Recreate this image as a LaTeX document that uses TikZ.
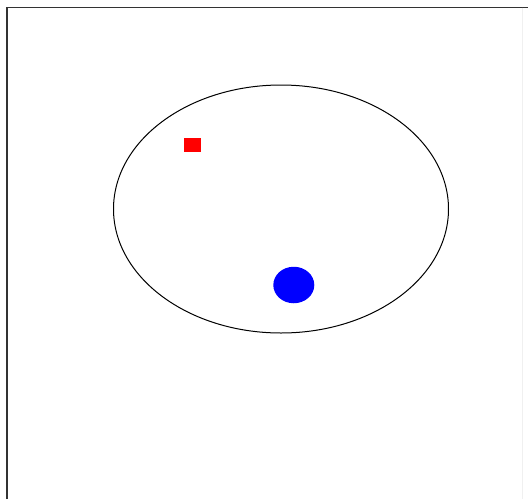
\documentclass[tikz,border=0pt]{standalone}
\usetikzlibrary{shapes.geometric}
\begin{document}
\begin{tikzpicture}[x=1pt,y=-1pt,
  framestyle/.style={line width=1.6pt,draw=black!80},
  orbit/.style={line width=1pt,draw=black}]
\useasboundingbox[fill=white] (0,0) rectangle (528,499);
\draw[framestyle] (6.8,499) -- (6.8,7.6) -- (528,7.6);
\draw[line width=0.8pt,draw=black!6] (522,7.6) -- (522,499);
\node[orbit,ellipse,minimum width=335pt,minimum height=248pt,inner sep=0pt] (orb) at (281,209) {};
\node[fill=red,draw=none,minimum width=17pt,minimum height=14pt,inner sep=0pt] (sq) at (192,145) {};
\node[fill=blue,draw=none,ellipse,minimum width=41pt,minimum height=36.5pt,inner sep=0pt] (ball) at (293.8,285) {};
\end{tikzpicture}
\end{document}
